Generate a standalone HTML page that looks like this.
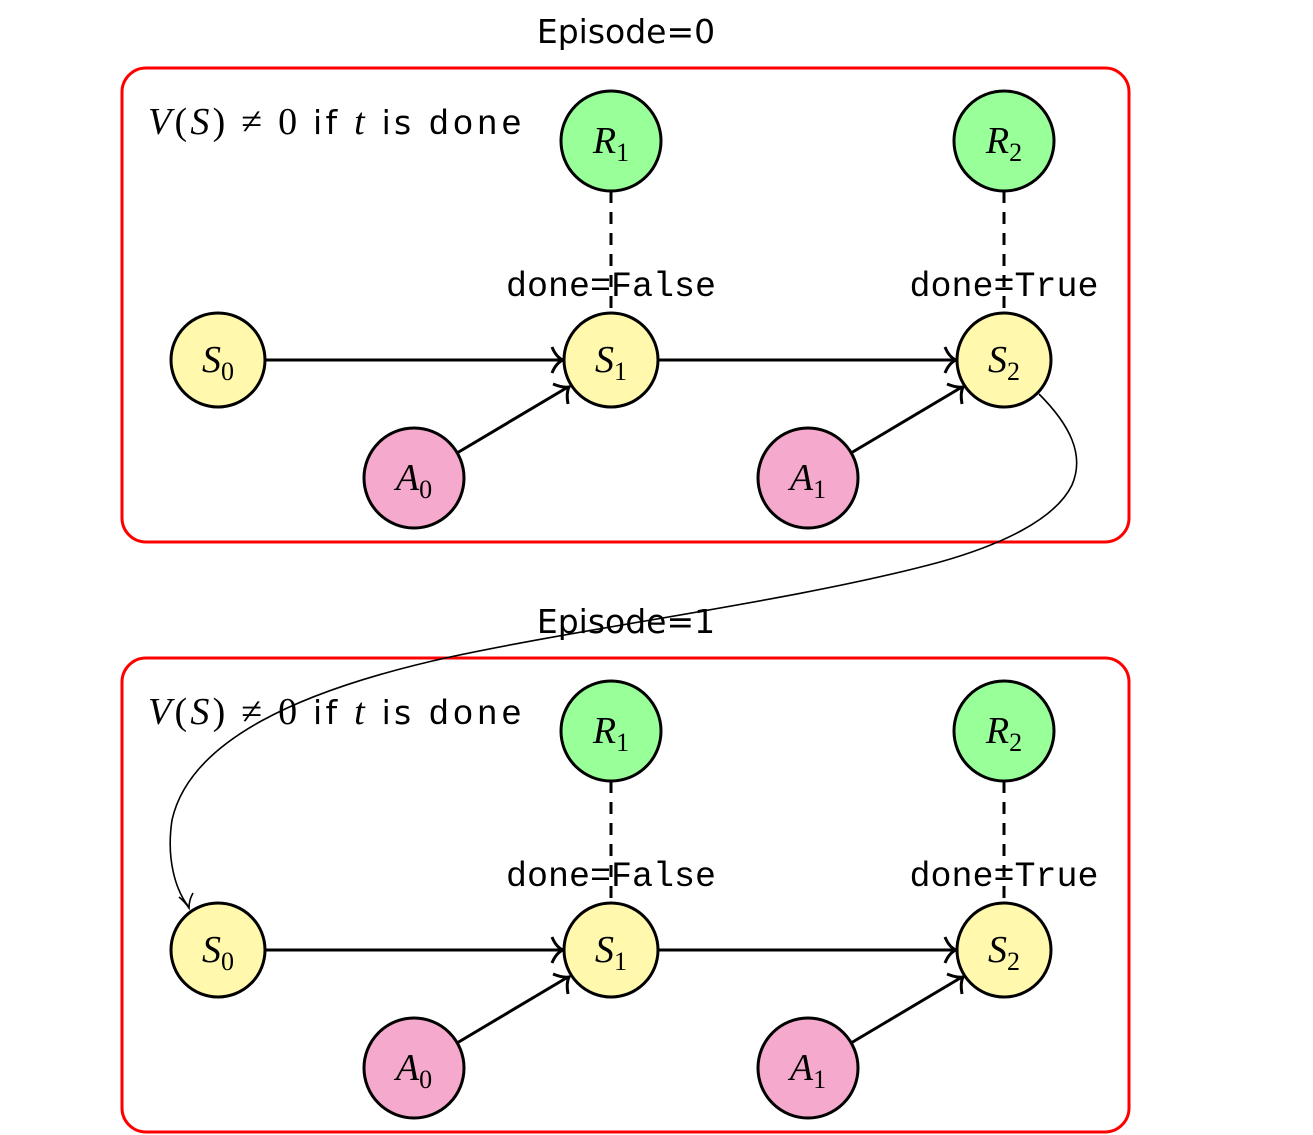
<!DOCTYPE html>
<html><head><meta charset="utf-8"><style>
html,body{margin:0;padding:0;background:#fff;}
svg{display:block;}
.m{font-family:"Liberation Serif",serif;font-style:italic;font-size:38px;}
.sub{font-family:"Liberation Serif",serif;font-style:normal;font-size:26px;}
.tt{font-family:"Liberation Mono",monospace;font-size:35px;}
.sf{font-family:"DejaVu Sans","Liberation Sans",sans-serif;font-size:33px;}
</style></head><body>
<svg width="1313" height="1135" viewBox="0 0 1313 1135" xmlns="http://www.w3.org/2000/svg">
<defs>
<g id="ep">
  <rect x="122" y="68" width="1007" height="474" rx="24" fill="none" stroke="#f00" stroke-width="3"/>
  <text x="148" y="134" class="m" font-size="42" textLength="374" lengthAdjust="spacing">V<tspan font-style="normal">(</tspan>S<tspan font-style="normal">) ≠ 0 </tspan><tspan class="sf" font-style="normal" font-size="32">if </tspan>t<tspan class="sf" font-style="normal" font-size="32"> is </tspan><tspan class="tt" font-style="normal" font-size="34">done</tspan></text>
  <line x1="611" y1="191" x2="611" y2="313" stroke="#000" stroke-width="3" stroke-dasharray="12,9"/>
  <line x1="1004" y1="191" x2="1004" y2="313" stroke="#000" stroke-width="3" stroke-dasharray="12,9"/>
  <text x="611" y="296" class="tt" text-anchor="middle">done=False</text>
  <text x="1004" y="296" class="tt" text-anchor="middle">done=True</text>
  <g stroke="#000" stroke-width="3" fill="none">
    <line x1="265" y1="360" x2="562" y2="360"/>
    <line x1="658" y1="360" x2="955" y2="360"/>
    <line x1="457" y1="453" x2="568" y2="387"/>
    <line x1="851" y1="453" x2="962" y2="387"/>
    <path d="M552,347 Q556,357 563,360 Q556,363 552,373"/>
    <path d="M945,347 Q949,357 956,360 Q949,363 945,373"/>
    <path d="M553,384 Q563,388 569,387 Q566,393 568,404"/>
    <path d="M947,384 Q957,388 963,387 Q960,393 962,404"/>
  </g>
  <g stroke="#000" stroke-width="3">
    <circle cx="218" cy="360" r="47" fill="#fff8ad"/>
    <circle cx="611" cy="360" r="47" fill="#fff8ad"/>
    <circle cx="1004" cy="360" r="47" fill="#fff8ad"/>
    <circle cx="611" cy="141" r="50" fill="#99ff99"/>
    <circle cx="1004" cy="141" r="50" fill="#99ff99"/>
    <circle cx="414" cy="478" r="50" fill="#f5a9cc"/>
    <circle cx="808" cy="478" r="50" fill="#f5a9cc"/>
  </g>
  <text x="218" y="372" class="m" text-anchor="middle">S<tspan class="sub" dy="8">0</tspan></text>
  <text x="611" y="372" class="m" text-anchor="middle">S<tspan class="sub" dy="8">1</tspan></text>
  <text x="1004" y="372" class="m" text-anchor="middle">S<tspan class="sub" dy="8">2</tspan></text>
  <text x="611" y="153" class="m" text-anchor="middle">R<tspan class="sub" dy="8">1</tspan></text>
  <text x="1004" y="153" class="m" text-anchor="middle">R<tspan class="sub" dy="8">2</tspan></text>
  <text x="414" y="490" class="m" text-anchor="middle">A<tspan class="sub" dy="8">0</tspan></text>
  <text x="808" y="490" class="m" text-anchor="middle">A<tspan class="sub" dy="8">1</tspan></text>
</g>
</defs>
<text x="626" y="43" class="sf" text-anchor="middle">Episode=0</text>
<use href="#ep"/>
<text x="626" y="633" class="sf" text-anchor="middle">Episode=1</text>
<use href="#ep" transform="translate(0,590)"/>
<path d="M1039,394 C1070,425 1085,455 1072,485 C1055,520 1000,545 940,562 C800,600 600,625 450,657 C300,690 190,740 172,820 C166,860 176,890 188,906" fill="none" stroke="#000" stroke-width="1.6"/>
<path d="M179,897 Q185,902 189,908 Q189,900 193,893" fill="none" stroke="#000" stroke-width="1.6"/>
</svg>
</body></html>
